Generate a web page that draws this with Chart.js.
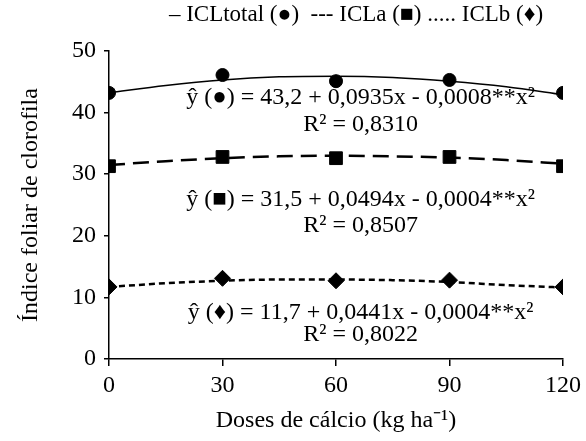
<!DOCTYPE html>
<html>
<head>
<meta charset="utf-8">
<script src="https://cdn.jsdelivr.net/npm/chart.js@4.4.1/dist/chart.umd.min.js"></script>
<style>
  html, body { margin: 0; padding: 0; background: #fff; }
  #wrap { width: 586px; height: 441px; }
</style>
</head>
<body>
<div id="wrap"><canvas id="chart" width="586" height="441"></canvas></div>
<script>
// Doses de cálcio (kg ha-1)
var doses = [0, 30, 60, 90, 120];

var iclTotal = [43.2, 46.1, 45.1, 45.3, 43.2];
var iclA = [31.3, 32.8, 32.6, 32.8, 31.3];
var iclB = [11.7, 13.1, 12.7, 12.8, 11.7];

// fitted curves, every 15 units
var curveX = [0, 15, 30, 45, 60, 75, 90, 105, 120];
var fitTotal = [43.2, 44.4, 45.3, 45.8, 45.9, 45.7, 45.1, 44.2, 42.9];
var fitA = [31.5, 32.1, 32.6, 32.9, 33.0, 32.9, 32.7, 32.3, 31.7];
var fitB = [11.7, 12.3, 12.7, 12.9, 12.9, 12.8, 12.5, 12.0, 11.6];

var yTicks = [0, 10, 20, 30, 40, 50];

// equation labels: [text, x, y] in data units
var eqLabels = [
  ['ŷ (●) = 43,2 + 0,0935x - 0,0008**x²', 66.5, 42.4],
  ['R² = 0,8310', 66.5, 38.0],
  ['ŷ (■) = 31,5 + 0,0494x - 0,0004**x²', 66.5, 25.9],
  ['R² = 0,8507', 66.5, 21.6],
  ['ŷ (♦) = 11,7 + 0,0441x - 0,0004**x²', 66.5, 7.5],
  ['R² = 0,8022', 66.5, 3.9]
];
var legendText = '– ICLtotal (●)  --- ICLa (■) ..... ICLb (♦)';

var FONT = '"Liberation Serif", "Times New Roman", serif';
var FS = 24;

function pairs(xs, ys) {
  return xs.map(function (x, i) { return {x: x, y: ys[i]}; });
}

var textPlugin = {
  id: 'textPlugin',
  afterDraw: function (chart) {
    var ctx = chart.ctx;
    var xs = chart.scales.x, ys = chart.scales.y;
    ctx.save();
    ctx.fillStyle = '#000';
    ctx.font = FS + 'px ' + FONT;
    ctx.textAlign = 'center';
    ctx.textBaseline = 'middle';
    for (var l of eqLabels) {
      ctx.fillText(l[0], xs.getPixelForValue(l[1]), ys.getPixelForValue(l[2]));
    }
    ctx.font = '23px ' + FONT;
    ctx.fillText(legendText, 356, 15);
    ctx.restore();
  }
};

var ctx = document.getElementById('chart').getContext('2d');
new Chart(ctx, {
  type: 'scatter',
  data: {
    datasets: [
      {data: pairs(curveX, fitTotal), showLine: true, borderColor: '#000', borderWidth: 1.5,
       pointRadius: 0, cubicInterpolationMode: 'monotone', order: 2},
      {data: pairs(curveX, fitA), showLine: true, borderColor: '#000', borderWidth: 2.5,
       borderDash: [16, 8], pointRadius: 0, cubicInterpolationMode: 'monotone', order: 2},
      {data: pairs(curveX, fitB), showLine: true, borderColor: '#000', borderWidth: 2.5,
       borderDash: [6, 4], pointRadius: 0, cubicInterpolationMode: 'monotone', order: 2},
      {data: pairs(doses, iclTotal), pointStyle: 'circle', pointRadius: 6.5,
       backgroundColor: '#000', borderColor: '#000', order: 1},
      {data: pairs(doses, iclA), pointStyle: 'rect', pointRadius: 9,
       backgroundColor: '#000', borderColor: '#000', order: 1},
      {data: pairs(doses, iclB), pointStyle: 'rectRot', pointRadius: 8,
       backgroundColor: '#000', borderColor: '#000', order: 1}
    ]
  },
  options: {
    responsive: false,
    animation: false,
    layout: {padding: {top: 51, right: 20, left: 0, bottom: 0}},
    plugins: {legend: {display: false}, tooltip: {enabled: false}},
    scales: {
      x: {
        type: 'linear', min: 0, max: 120,
        afterBuildTicks: function (s) { s.ticks = doses.map(function (v) { return {value: v}; }); },
        afterFit: function (s) { s.height = 82; },
        grid: {drawOnChartArea: false, drawTicks: true, tickLength: 7, color: '#000', lineWidth: 1.5},
        border: {color: '#000', width: 1.5},
        ticks: {color: '#000', font: {family: FONT, size: FS}, padding: 5},
        title: {display: true, text: 'Doses de cálcio (kg ha⁻¹)', color: '#000',
                font: {family: FONT, size: FS}, padding: {bottom: 6}}
      },
      y: {
        min: 0, max: 50,
        afterBuildTicks: function (s) { s.ticks = yTicks.map(function (v) { return {value: v}; }); },
        afterFit: function (s) { s.width = 109; },
        grid: {drawOnChartArea: false, drawTicks: true, tickLength: 5, color: '#000', lineWidth: 1.5},
        border: {color: '#000', width: 1.5},
        ticks: {color: '#000', font: {family: FONT, size: FS}, padding: 8},
        title: {display: true, text: 'Índice foliar de clorofila', color: '#000',
                font: {family: FONT, size: FS}, padding: {top: 16}}
      }
    }
  },
  plugins: [textPlugin]
});
</script>
</body>
</html>
